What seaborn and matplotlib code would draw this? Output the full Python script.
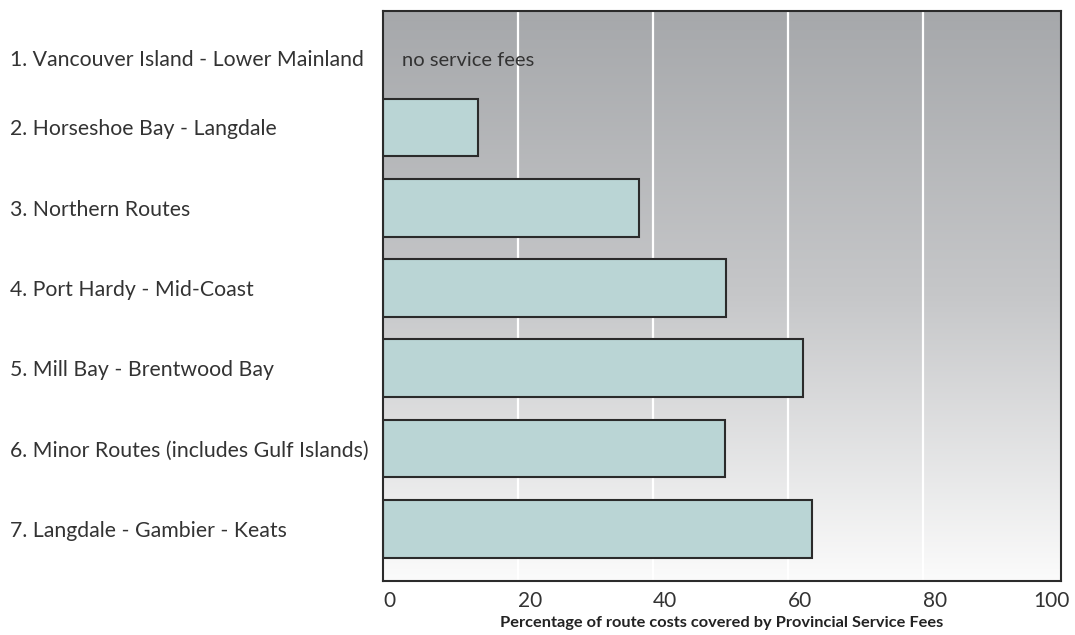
import numpy as np
import pandas as pd
import matplotlib
matplotlib.use("Agg")
import matplotlib.pyplot as plt
import matplotlib.transforms as mtransforms
from matplotlib.colors import LinearSegmentedColormap
import seaborn as sns

routes = [
    "1. Vancouver Island - Lower Mainland",
    "2. Horseshoe Bay - Langdale",
    "3. Northern Routes",
    "4. Port Hardy - Mid-Coast",
    "5. Mill Bay - Brentwood Bay",
    "6. Minor Routes (includes Gulf Islands)",
    "7. Langdale - Gambier - Keats",
]
pct_covered = [0, 14.1, 38.0, 50.9, 62.2, 50.7, 63.6]
x_ticks = [0, 20, 40, 60, 80, 100]
grid_values = [20, 40, 60, 80]
note_text = "no service fees"
x_label = "Percentage of route costs covered by Provincial Service Fees"

sns.set_theme(style="white")
plt.rcParams["font.family"] = ["Lato", "DejaVu Sans"]

df = pd.DataFrame({"route": routes, "pct": pct_covered})

fig = plt.figure(figsize=(10.75, 6.35), dpi=100)
ax = fig.add_axes([383 / 1075, 1 - 581 / 635, (1061 - 383) / 1075, (581 - 11) / 635])

# gradient background
grad = np.linspace(0, 1, 256).reshape(-1, 1)
cmap = LinearSegmentedColormap.from_list("bg", ["#a6a8ab", "#c6c7c9", "#fbfbfb"])
ax.imshow(grad, extent=[0, 1, 0, 1], transform=ax.transAxes, aspect="auto",
          cmap=cmap, zorder=0, origin="upper", interpolation="bicubic")

sns.barplot(data=df, x="pct", y="route", orient="h", color="#bad5d5",
            saturation=1, width=0.72, edgecolor="#2b2b2b", linewidth=1.5,
            ax=ax, zorder=2)
# the first route has no fees: hide its zero-width bar outline
ax.patches[0].set_visible(False)

for g in grid_values:
    ax.axvline(g, color="white", lw=1.6, zorder=1)

ax.set_xlim(0, 100.5)
ax.set_ylim(6.65, -0.45)
ax.set_xticks(x_ticks)
ax.set_xticklabels([str(t) for t in x_ticks], fontsize=15, color="#333333")
ax.tick_params(axis="x", length=0, pad=7)
ax.tick_params(axis="y", length=0, pad=268.6, labelsize=15.3, labelcolor="#333333")
for lab in ax.get_yticklabels():
    lab.set_ha("left")
first = ax.get_yticklabels()[0]
first.set_transform(first.get_transform() +
                    mtransforms.ScaledTranslation(0, -0.11, fig.dpi_scale_trans))
xl = ax.get_xticklabels()
for lab in xl[:-1]:
    lab.set_ha("left")
xl[-1].set_transform(xl[-1].get_transform() +
                     mtransforms.ScaledTranslation(-0.06, 0, fig.dpi_scale_trans))

ax.set_ylabel("")
ax.set_xlabel(x_label, fontsize=11.8, fontweight="bold", color="#222222", labelpad=4)

ax.text(0.028, 0, note_text, transform=mtransforms.blended_transform_factory(ax.transAxes, ax.transData)
        + mtransforms.ScaledTranslation(0, -0.13, fig.dpi_scale_trans),
        va="center", ha="left", fontsize=14.5, color="#333333", zorder=3)

for s in ax.spines.values():
    s.set_visible(True)
    s.set_color("#2b2b2b")
    s.set_linewidth(1.5)

fig.savefig("out.png", dpi=100)
